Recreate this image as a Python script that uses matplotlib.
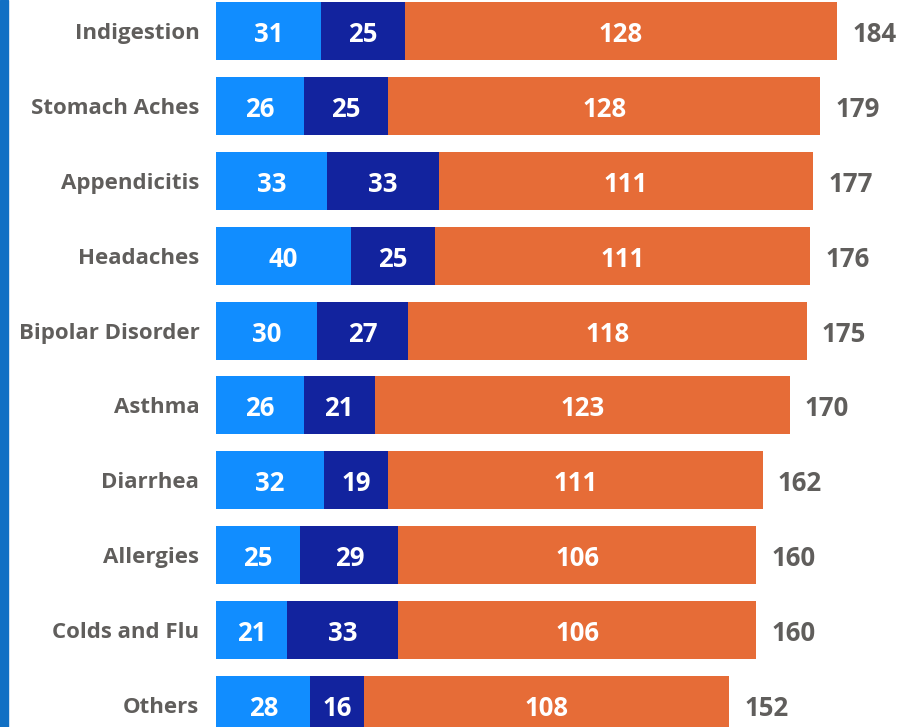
import matplotlib.pyplot as plt
import matplotlib.patches as patches

categories = ["Indigestion", "Stomach Aches", "Appendicitis", "Headaches", "Bipolar Disorder",
              "Asthma", "Diarrhea", "Allergies", "Colds and Flu", "Others"]
light = [31, 26, 33, 40, 30, 26, 32, 25, 21, 28]
dark = [25, 25, 33, 25, 27, 21, 19, 29, 33, 16]
orange = [128, 128, 111, 111, 118, 123, 111, 106, 106, 108]

c_light = "#118dff"
c_dark = "#12239e"
c_orange = "#e66c37"
c_text = "#605e5c"

plt.rcParams['font.family'] = ['Open Sans', 'DejaVu Sans']

fig = plt.figure(figsize=(9.03, 7.27), dpi=100)
fig.patches.append(patches.Rectangle((0, 0), 8 / 903, 1, transform=fig.transFigure,
                                     color="#1170c4", zorder=0))
ax = fig.add_axes([216 / 903, 0, 1 - 216 / 903, 1])

y = list(range(len(categories)))
h = 0.775
totals = [a + b + c for a, b, c in zip(light, dark, orange)]
left2 = light
left3 = [a + b for a, b in zip(light, dark)]

ax.barh(y, light, height=h, color=c_light)
ax.barh(y, dark, left=left2, height=h, color=c_dark)
ax.barh(y, orange, left=left3, height=h, color=c_orange)

# segment labels
for lefts, vals in (([0] * len(light), light), (left2, dark), (left3, orange)):
    for yi, l, v in zip(y, lefts, vals):
        ax.annotate(str(v), (l + v / 2, yi), xytext=(0, -2.5), textcoords='offset points',
                    ha='center', va='center', color='white', fontsize=18.5, fontweight='bold')

for yi, t in zip(y, totals):
    ax.annotate(str(t), (t, yi), xytext=(11, -2.5), textcoords='offset points',
                va='center', ha='left', color=c_text, fontsize=18.5, fontweight='bold')

ax.set_xlim(0, (903 - 216) / 3.375)
ax.set_ylim(9.293, -0.414)
ax.set_yticks(y)
ax.set_yticklabels(categories, color=c_text, fontsize=16, fontweight='bold')
ax.tick_params(axis='y', length=0, pad=12)
ax.set_xticks([])
for s in ax.spines.values():
    s.set_visible(False)

fig.savefig("out.png", dpi=100)
